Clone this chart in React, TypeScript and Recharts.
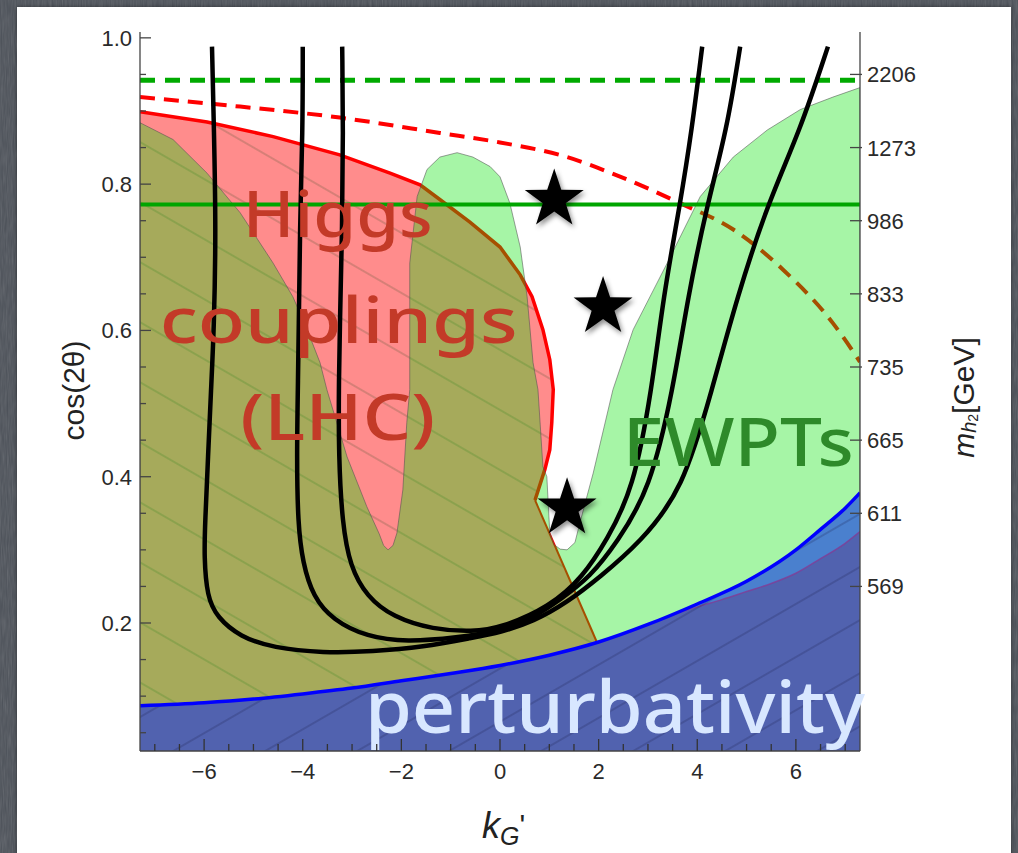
import React from "react";
import {
  ComposedChart,
  XAxis,
  YAxis,
  Area,
  Line,
  Scatter,
  ReferenceDot,
} from "recharts";

type Pt = [number, number];

// Ejes
const xDomain: [number, number] = [-7.3, 7.3];
const yDomain: [number, number] = [0.025, 1.008];
const xTicks = [
  -7, -6.5, -6, -5.5, -5, -4.5, -4, -3.5, -3, -2.5, -2, -1.5, -1, -0.5, 0,
  0.5, 1, 1.5, 2, 2.5, 3, 3.5, 4, 4.5, 5, 5.5, 6, 6.5, 7,
];
const xLabelled = [-6, -4, -2, 0, 2, 4, 6];
const yTicks = [
  0.05, 0.1, 0.15, 0.2, 0.25, 0.3, 0.35, 0.4, 0.45, 0.5, 0.55, 0.6, 0.65, 0.7,
  0.75, 0.8, 0.85, 0.9, 0.95, 1.0,
];
const yLabelled = [0.2, 0.4, 0.6, 0.8, 1.0];
const massTicks = [0.25, 0.35, 0.45, 0.55, 0.65, 0.75, 0.85, 0.95];
const massLabels = ["569", "611", "665", "735", "833", "986", "1273", "2206"];

// Region excluded by Higgs couplings (closed outline)
const higgsRegion: Pt[] = [
  [-7.3, 0.025], [-7.3, 0.899], [-5.94, 0.885], [-4.6, 0.865], [-3.25, 0.84],
  [-2.23, 0.815], [-1.62, 0.799], [-1.22, 0.779], [-0.61, 0.748], [0, 0.714],
  [0.41, 0.676], [0.65, 0.646], [0.87, 0.601], [1.01, 0.56], [1.08, 0.519],
  [1.05, 0.474], [1.01, 0.437], [0.91, 0.41], [0.71, 0.368], [1.97, 0.173],
  [1.97, 0.025], [-7.3, 0.025],
];
const higgsEdge: Pt[] = [
  [-7.3, 0.899], [-5.94, 0.885], [-4.6, 0.865], [-3.25, 0.84], [-2.23, 0.815],
  [-1.62, 0.799], [-1.22, 0.779], [-0.61, 0.748], [0, 0.714], [0.41, 0.676],
  [0.65, 0.646], [0.87, 0.601], [1.01, 0.56], [1.08, 0.519], [1.05, 0.474],
  [1.01, 0.437], [0.91, 0.41], [0.71, 0.368],
];
const higgsSlant: Pt[] = [[0.71, 0.368], [1.97, 0.173]];
const higgsFuture: Pt[] = [
  [-7.3, 0.919], [-5.27, 0.906], [-3.25, 0.891], [-1.22, 0.87], [0, 0.857],
  [1.36, 0.837], [2.37, 0.812], [3.65, 0.774], [4.73, 0.738], [5.74, 0.683],
  [6.75, 0.61], [7.3, 0.557],
];

// Region excluded by EWPTs (closed outline)
const ewptRegion: Pt[] = [
  [-7.3, 0.025], [-7.3, 0.884], [-6.63, 0.861], [-5.94, 0.815], [-5.27, 0.761],
  [-4.6, 0.692], [-4.2, 0.646], [-3.91, 0.601], [-3.65, 0.556], [-3.51, 0.519],
  [-3.1, 0.427], [-2.7, 0.359], [-2.45, 0.322], [-2.36, 0.306], [-2.27, 0.3],
  [-2.17, 0.306], [-2.09, 0.323], [-1.97, 0.382], [-1.89, 0.474], [-1.83, 0.519],
  [-1.83, 0.692], [-1.68, 0.783], [-1.48, 0.82], [-1.22, 0.837], [-0.87, 0.843],
  [-0.55, 0.837], [-0.2, 0.824], [0, 0.81], [0.2, 0.774], [0.41, 0.714],
  [0.55, 0.646], [0.67, 0.556], [0.77, 0.519], [0.87, 0.414], [0.95, 0.4],
  [1.01, 0.323], [1.1, 0.307], [1.22, 0.301], [1.36, 0.3], [1.52, 0.31],
  [1.62, 0.337], [1.89, 0.405], [2.29, 0.519], [2.7, 0.601], [3.39, 0.692],
  [4.06, 0.783], [4.73, 0.837], [5.42, 0.874], [6.09, 0.902], [6.75, 0.919],
  [7.3, 0.932], [7.3, 0.025], [-7.3, 0.025],
];
const ewptFuture: Pt[] = [[-7.3, 0.942], [7.3, 0.942]];
const ewptNow: Pt[] = [[-7.3, 0.772], [7.3, 0.772]];

// Perturbativity
const perturbEdge: Pt[] = [
  [-7.3, 0.087], [-6, 0.091], [-5, 0.096], [-4, 0.103], [-3, 0.111], [-2, 0.121],
  [-1, 0.131], [0, 0.142], [1, 0.156], [2, 0.174], [3, 0.198], [4, 0.226],
  [5, 0.257], [6, 0.3], [6.5, 0.328], [7, 0.357], [7.3, 0.378],
];
const perturbInner: Pt[] = [
  [-7.3, 0.087], [-6, 0.091], [-5, 0.096], [-4, 0.103], [-3, 0.111], [-2, 0.121],
  [-1, 0.131], [0, 0.142], [1, 0.156], [2, 0.174], [3, 0.198], [3.5, 0.211],
  [4, 0.222], [4.5, 0.232], [5, 0.243], [5.5, 0.254], [6, 0.268], [6.5, 0.288],
  [7, 0.309], [7.3, 0.325],
];

// Black contours
const contourA: Pt[] = [
  [-5.84, 0.988], [-5.8, 0.874], [-5.76, 0.737], [-5.8, 0.601], [-5.86, 0.519],
  [-5.92, 0.427], [-5.98, 0.337], [-6.0, 0.291], [-5.94, 0.236], [-5.74, 0.208],
  [-5.27, 0.181], [-4.6, 0.166], [-3.59, 0.159], [-2.58, 0.161], [-1.56, 0.167],
  [-0.55, 0.18], [0, 0.187], [0.68, 0.202], [1.36, 0.228], [2.03, 0.263],
  [2.84, 0.31], [3.71, 0.382], [4.3, 0.519], [4.81, 0.646], [5.42, 0.772],
  [6.09, 0.874], [6.65, 0.988],
];
const contourB: Pt[] = [
  [-4.0, 0.988], [-4.0, 0.874], [-4.06, 0.737], [-4.08, 0.601], [-4.1, 0.519],
  [-4.12, 0.427], [-4.1, 0.337], [-4.0, 0.282], [-3.79, 0.236], [-3.39, 0.204],
  [-2.7, 0.181], [-1.89, 0.174], [-0.87, 0.18], [0, 0.189], [0.67, 0.207],
  [1.22, 0.232], [1.83, 0.263], [2.37, 0.31], [3.04, 0.382], [3.51, 0.519],
  [3.81, 0.646], [4.2, 0.772], [4.6, 0.874], [4.87, 0.988],
];
const contourC: Pt[] = [
  [-3.2, 0.988], [-3.18, 0.874], [-3.2, 0.737], [-3.25, 0.601], [-3.27, 0.519],
  [-3.27, 0.427], [-3.2, 0.337], [-3.04, 0.277], [-2.7, 0.236], [-2.17, 0.208],
  [-1.36, 0.191], [-0.55, 0.188], [0, 0.193], [1.01, 0.222], [1.68, 0.263],
  [2.17, 0.314], [2.7, 0.382], [3.08, 0.519], [3.31, 0.646], [3.65, 0.772],
  [3.89, 0.874], [4.1, 0.988],
];

const benchmarks: Pt[] = [[1.1, 0.779], [2.09, 0.632], [1.36, 0.357]];

const rows = (pts: Pt[]) => pts.map(([k, v]) => ({ k, v }));

const SANS = '"Liberation Sans", Arial, Helvetica, sans-serif';
const CHALK = '"Noto Sans", "DejaVu Sans", sans-serif';
const tickText = { fontFamily: SANS, fontSize: 22, fill: "#2a2a2a" };
const isIn = (list: number[], v: number) => list.some((t) => Math.abs(t - v) < 1e-6);

const LeftTick = (props: any) => {
  const { x, y, payload } = props;
  const axisX = x + 8;
  const major = isIn(yLabelled, payload.value);
  return (
    <g>
      <line x1={axisX} x2={axisX + (major ? 11 : 6)} y1={y} y2={y} stroke="#444" strokeWidth={1.3} />
      {major && (
        <text x={x} y={y + 8} textAnchor="end" {...tickText}>
          {payload.value.toFixed(1)}
        </text>
      )}
    </g>
  );
};

const BottomTick = (props: any) => {
  const { x, y, payload } = props;
  const axisY = y - 12;
  const major = isIn(xLabelled, payload.value);
  const label = payload.value < 0 ? `\u2212${Math.abs(payload.value)}` : `${payload.value}`;
  return (
    <g>
      <line x1={x} x2={x} y1={axisY} y2={axisY - (major ? 12 : 7)} stroke="#333" strokeWidth={1.3} />
      {major && (
        <text x={x} y={axisY + 28} textAnchor="middle" {...tickText}>
          {label}
        </text>
      )}
    </g>
  );
};

const RightTick = (props: any) => {
  const { x, y, index } = props;
  const axisX = x - 7;
  return (
    <g>
      <line x1={axisX - 10} x2={axisX + 2} y1={y} y2={y} stroke="#444" strokeWidth={1.3} />
      <text x={x} y={y + 8} textAnchor="start" {...tickText}>
        {massLabels[index] ?? ""}
      </text>
    </g>
  );
};

const StarMark = (props: any) => {
  const { cx, cy } = props;
  const pts: string[] = [];
  for (let i = 0; i < 10; i++) {
    const rad = i % 2 === 0 ? 31 : 12;
    const a = -Math.PI / 2 + (i * Math.PI) / 5;
    pts.push(`${cx + rad * Math.cos(a)},${cy + rad * Math.sin(a)}`);
  }
  return <polygon points={pts.join(" ")} fill="#000" filter="url(#starShadow)" />;
};

const chalk = (text: string, color: string, size: number, width: number) => (p: any) => (
  <text
    x={p.cx}
    y={p.cy}
    textAnchor="middle"
    fontFamily={CHALK}
    fontSize={size}
    fontWeight={500}
    fill={color}
    textLength={width}
    lengthAdjust="spacingAndGlyphs"
  >
    {text}
  </text>
);

const App: React.FC = () => {
  return (
    <div
      style={{
        position: "absolute",
        left: 0,
        top: 0,
        width: 1018,
        height: 853,
        overflow: "hidden",
        background: "#4b5058",
      }}
    >
      <svg width={1018} height={853} style={{ position: "absolute", left: 0, top: 0 }}>
        <filter id="slate">
          <feTurbulence type="fractalNoise" baseFrequency="0.8 0.06" numOctaves={2} seed={4} />
          <feColorMatrix type="saturate" values="0" />
        </filter>
        <rect width={1018} height={853} filter="url(#slate)" opacity={0.22} />
      </svg>
      <div
        style={{
          position: "absolute",
          left: 17,
          top: 7,
          width: 994,
          height: 870,
          background: "#fff",
          boxShadow: "0 0 4px rgba(0,0,0,0.45)",
        }}
      />
      <div style={{ position: "absolute", left: 0, top: 0 }}>
        <ComposedChart width={1018} height={853} margin={{ top: 32, right: 98, bottom: 62, left: 80 }}>
          <defs>
            <pattern id="hatchRed" patternUnits="userSpaceOnUse" width={52} height={52} patternTransform="rotate(30)">
              <line x1={0} y1={1} x2={52} y2={1} stroke="rgba(40,70,30,0.38)" strokeWidth={1.2} />
            </pattern>
            <pattern id="hatchBlue" patternUnits="userSpaceOnUse" width={46} height={46} patternTransform="rotate(-30)">
              <line x1={0} y1={1} x2={46} y2={1} stroke="rgba(25,30,80,0.45)" strokeWidth={1.2} />
            </pattern>
            <filter id="starShadow" x="-50%" y="-50%" width="200%" height="200%">
              <feDropShadow dx={2} dy={3} stdDeviation={2.5} floodColor="#000" floodOpacity={0.45} />
            </filter>
          </defs>

          <Area data={rows(higgsRegion)} dataKey="v" type="linear" fill="#ff0000" fillOpacity={0.45} stroke="none" isAnimationActive={false} zIndex={10} />
          <Area data={rows(higgsRegion)} dataKey="v" type="linear" fill="url(#hatchRed)" fillOpacity={1} stroke="none" isAnimationActive={false} zIndex={11} />
          <Line data={rows(higgsEdge)} dataKey="v" type="linear" stroke="#ff0000" strokeWidth={3.5} dot={false} activeDot={false} isAnimationActive={false} zIndex={12} />
          <Line data={rows(higgsSlant)} dataKey="v" type="linear" stroke="#ff0000" strokeWidth={2} dot={false} activeDot={false} isAnimationActive={false} zIndex={13} />
          <Line data={rows(higgsFuture)} dataKey="v" type="monotone" stroke="#ff0000" strokeWidth={4} strokeDasharray="15 9" dot={false} activeDot={false} isAnimationActive={false} zIndex={14} />

          <Area data={rows(ewptRegion)} dataKey="v" type="linear" fill="rgb(0,227,0)" fillOpacity={0.35} stroke="rgba(80,80,80,0.55)" strokeWidth={1} isAnimationActive={false} zIndex={15} />
          <Line data={rows(ewptFuture)} xAxisId="top" yAxisId="right" dataKey="v" type="linear" stroke="rgb(0,170,0)" strokeWidth={5} strokeDasharray="15 10" dot={false} activeDot={false} isAnimationActive={false} zIndex={16} />
          <Line data={rows(ewptNow)} xAxisId="top" yAxisId="right" dataKey="v" type="linear" stroke="rgb(0,165,0)" strokeWidth={4} dot={false} activeDot={false} isAnimationActive={false} zIndex={17} />

          <Area data={rows(perturbEdge)} dataKey="v" type="monotone" fill="rgb(74,128,206)" fillOpacity={1} stroke="none" isAnimationActive={false} zIndex={18} />
          <Area data={rows(perturbInner)} dataKey="v" type="monotone" fill="rgb(81,98,175)" fillOpacity={1} stroke="rgba(130,60,150,0.8)" strokeWidth={1.5} isAnimationActive={false} zIndex={19} />
          <Area data={rows(perturbEdge)} dataKey="v" type="monotone" fill="url(#hatchBlue)" fillOpacity={1} stroke="#0000ff" strokeWidth={3.5} isAnimationActive={false} zIndex={20} />

          <Line data={rows(contourA)} dataKey="v" type="basis" stroke="#000" strokeWidth={4.5} dot={false} activeDot={false} isAnimationActive={false} zIndex={21} />
          <Line data={rows(contourB)} dataKey="v" type="basis" stroke="#000" strokeWidth={4.5} dot={false} activeDot={false} isAnimationActive={false} zIndex={22} />
          <Line data={rows(contourC)} dataKey="v" type="basis" stroke="#000" strokeWidth={4.5} dot={false} activeDot={false} isAnimationActive={false} zIndex={23} />

          <Scatter data={rows(benchmarks)} dataKey="v" shape={StarMark} isAnimationActive={false} zIndex={24} />

          <XAxis
            type="number"
            dataKey="k"
            domain={xDomain}
            allowDataOverflow
            ticks={xTicks}
            interval={0}
            tickSize={0}
            tickMargin={12}
            tickLine={false}
            tick={BottomTick}
            axisLine={{ stroke: "#444", strokeWidth: 1.3 }}
            height={40}
            zIndex={30}
            label={(p: any) => {
              const vb = p.viewBox;
              const cx = vb.x + vb.width / 2;
              const by = vb.y + 87;
              return (
                <text x={cx - 18} y={by} fontFamily={SANS} fill="#222">
                  <tspan fontSize={36} fontStyle="italic">k</tspan>
                  <tspan fontSize={25} fontStyle="italic" dy={7}>G</tspan>
                  <tspan fontSize={30} dy={-10}>'</tspan>
                </text>
              );
            }}
          />
          <XAxis
            xAxisId="top"
            orientation="top"
            type="number"
            dataKey="k"
            domain={xDomain}
            allowDataOverflow
            height={0}
            tick={false}
            tickLine={false}
            axisLine={{ stroke: "#777", strokeWidth: 1.2 }}
            zIndex={30}
          />
          <YAxis
            type="number"
            domain={yDomain}
            allowDataOverflow
            ticks={yTicks}
            interval={0}
            tickSize={0}
            tickMargin={8}
            tickLine={false}
            tick={LeftTick}
            axisLine={{ stroke: "#444", strokeWidth: 1.3 }}
            width={60}
            zIndex={30}
            label={(p: any) => {
              const vb = p.viewBox;
              const cx = vb.x - 7;
              const cy = vb.y + vb.height / 2 - 1;
              return (
                <text
                  x={cx}
                  y={cy}
                  transform={`rotate(-90 ${cx} ${cy})`}
                  textAnchor="middle"
                  dominantBaseline="central"
                  fontFamily={SANS}
                  fontSize={30}
                  fill="#222"
                >
                  cos(2θ)
                </text>
              );
            }}
          />
          <YAxis
            yAxisId="right"
            orientation="right"
            type="number"
            domain={yDomain}
            allowDataOverflow
            ticks={massTicks}
            interval={0}
            tickSize={0}
            tickMargin={7}
            tickLine={false}
            tick={RightTick}
            axisLine={{ stroke: "#444", strokeWidth: 1.3 }}
            width={60}
            zIndex={30}
            label={(p: any) => {
              const vb = p.viewBox;
              const cx = vb.x + 103;
              const cy = vb.y + vb.height / 2 + 6;
              return (
                <text
                  x={cx}
                  y={cy}
                  transform={`rotate(-90 ${cx} ${cy})`}
                  textAnchor="middle"
                  dominantBaseline="central"
                  fontFamily={SANS}
                  fontSize={30}
                  fill="#222"
                >
                  <tspan fontStyle="italic">m</tspan>
                  <tspan fontStyle="italic" fontSize={20} dy={6}>h</tspan>
                  <tspan fontSize={14} dy={4}>2</tspan>
                  <tspan dy={-10}>[GeV]</tspan>
                </text>
              );
            }}
          />

          <ReferenceDot x={-3.29} y={0.728} r={1} shape={chalk("Higgs", "#c33a28", 64, 190)} zIndex={40} />
          <ReferenceDot x={-3.27} y={0.583} r={1} shape={chalk("couplings", "#c33a28", 64, 358)} zIndex={40} />
          <ReferenceDot x={-3.29} y={0.45} r={1} shape={chalk("(LHC)", "#c33a28", 64, 195)} zIndex={40} />
          <ReferenceDot x={4.83} y={0.414} r={1} shape={chalk("EWPTs", "#2e8a2a", 68, 231)} zIndex={40} />
          <ReferenceDot x={2.33} y={0.05} r={1} shape={chalk("perturbativity", "#d8e7ff", 72, 500)} zIndex={40} />
        </ComposedChart>
      </div>
    </div>
  );
};

export default App;
